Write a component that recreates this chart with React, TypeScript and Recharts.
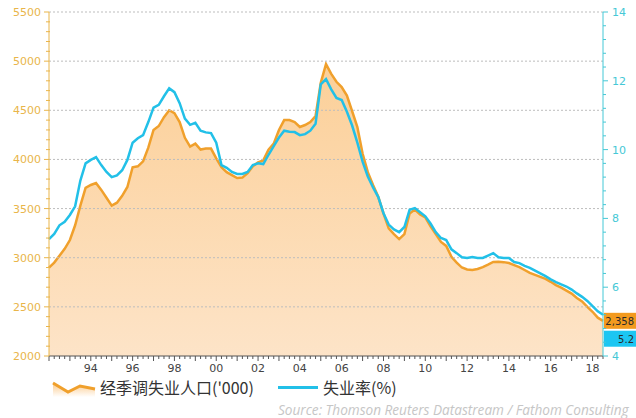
import { ComposedChart, Area, Line, XAxis, YAxis, ReferenceLine, ReferenceDot } from 'recharts';

// quarterly readings, 1992Q1 .. 2018Q3
const FIRST_YEAR = 1992;

// 经季调失业人口, thousands
const unemployed = [
  2900, 2950, 3020, 3090, 3180, 3330, 3530, 3710, 3740, 3760, 3690, 3610,
  3530, 3560, 3630, 3720, 3920, 3930, 3980, 4120, 4300, 4340, 4430, 4500,
  4470, 4380, 4220, 4130, 4160, 4100, 4110, 4110, 4010, 3920, 3870, 3840,
  3811, 3815, 3860, 3930, 3970, 3990, 4100, 4160, 4300, 4400, 4400, 4380,
  4330, 4350, 4380, 4440, 4780, 4970, 4870, 4790, 4737, 4650, 4490, 4330,
  4060, 3870, 3740, 3620, 3450, 3300, 3240, 3190, 3240, 3450, 3490, 3440,
  3410, 3320, 3240, 3160, 3120, 3010, 2950, 2900, 2880, 2875, 2885, 2905,
  2930, 2957, 2960, 2955, 2946, 2925, 2905, 2875, 2845, 2825, 2805, 2785,
  2755, 2722, 2695, 2665, 2635, 2590, 2555, 2500, 2450, 2390, 2358,
];

// 失业率, %
const rate = [
  7.4, 7.55, 7.8, 7.9, 8.1, 8.35, 9.1, 9.6, 9.7, 9.78, 9.55, 9.35,
  9.2, 9.25, 9.4, 9.7, 10.2, 10.33, 10.42, 10.8, 11.22, 11.3, 11.55, 11.78,
  11.67, 11.35, 10.9, 10.72, 10.78, 10.55, 10.5, 10.48, 10.2, 9.55, 9.47, 9.35,
  9.29, 9.29, 9.35, 9.55, 9.6, 9.58, 9.85, 10.1, 10.35, 10.55, 10.52, 10.51,
  10.42, 10.45, 10.55, 10.75, 11.9, 12.05, 11.75, 11.5, 11.44, 11.1, 10.7, 10.2,
  9.65, 9.22, 8.9, 8.62, 8.15, 7.82, 7.68, 7.6, 7.75, 8.25, 8.3, 8.18,
  8.06, 7.85, 7.6, 7.43, 7.37, 7.1, 6.99, 6.87, 6.85, 6.88, 6.85, 6.85,
  6.92, 6.99, 6.87, 6.85, 6.85, 6.73, 6.7, 6.62, 6.56, 6.48, 6.4, 6.32,
  6.23, 6.15, 6.08, 6.02, 5.93, 5.82, 5.72, 5.6, 5.45, 5.3, 5.2,
];

const periods = unemployed.map((_, i) => `${FIRST_YEAR + Math.floor(i / 4)}Q${(i % 4) + 1}`);
const labelledYears = ['1994', '1996', '1998', '2000', '2002', '2004', '2006', '2008', '2010', '2012', '2014', '2016', '2018'];

const leftMajor = [2000, 2500, 3000, 3500, 4000, 4500, 5000, 5500];
const leftTicks = Array.from({ length: 36 }, (_, i) => 2000 + i * 100);
const rightMajor = [4, 6, 8, 10, 12, 14];
const rightTicks = Array.from({ length: 26 }, (_, i) => Math.round((4 + i * 0.4) * 10) / 10);

const lastUnemployedText = '2,358';
const lastRateText = '5.2';

const data = periods.map((period, i) => ({ period, unemployed: unemployed[i], rate: rate[i] }));
const last = data.length - 1;

const ORANGE = '#f0a02c';
const CYAN = '#22c0e8';
const GOLD = '#e9b54a';
const TEAL = '#45c8d6';
const FONT = '"DejaVu Sans", Verdana, sans-serif';

const LeftTick = ({ x, y, payload }: any) => {
  const major = leftMajor.includes(payload.value);
  return (
    <g>
      <line x1={x - (major ? 5 : 3)} x2={x + (major ? 0 : 1)} y1={y} y2={y} stroke={GOLD} />
      {major && (
        <text x={x - 8} y={y} dy={4} textAnchor="end" fill={GOLD} fontSize={11} fontFamily={FONT}>
          {payload.value}
        </text>
      )}
    </g>
  );
};

const RightTick = ({ x, y, payload }: any) => {
  const major = rightMajor.includes(payload.value);
  return (
    <g>
      <line x1={x} x2={x + (major ? 5 : 3)} y1={y} y2={y} stroke={TEAL} />
      {major && (
        <text x={x + 9} y={y} dy={4} textAnchor="start" fill={TEAL} fontSize={11} fontFamily={FONT}>
          {payload.value}
        </text>
      )}
    </g>
  );
};

const BottomTick = ({ x, y, payload }: any) => {
  const p: string = payload.value;
  const year = p.slice(0, 4);
  const q1 = p.endsWith('Q1');
  return (
    <g>
      <line x1={x} x2={x} y1={y} y2={y + (q1 ? 5 : 3)} stroke="#555" />
      {q1 && labelledYears.includes(year) && (
        <text x={x} y={y + 16} textAnchor="middle" fill="#444" fontSize={11} fontFamily={FONT}>
          {year.slice(2)}
        </text>
      )}
    </g>
  );
};

const Badge = ({ cx, cy, fill, text, shift }: any) => (
  <g>
    <rect x={cx + 1} y={cy - 8 + shift} width={40} height={16} fill={fill} />
    <text x={634} y={cy + shift} dy={4} textAnchor="end" fill="#2a2a2a" fontSize={10} fontFamily={FONT}>
      {text}
    </text>
  </g>
);

export default function App() {
  return (
    <div style={{ position: 'absolute', left: 0, top: 0, width: 636, height: 418, background: '#fff', overflow: 'hidden' }}>
      <ComposedChart width={636} height={418} data={data} margin={{ top: 12, right: 0, left: 0, bottom: 38 }}>
        <defs>
          <linearGradient id="fillUnemployed" x1="0" y1="0" x2="0" y2="1">
            <stop offset="0%" stopColor="#fbc98a" />
            <stop offset="100%" stopColor="#fde0c0" />
          </linearGradient>
        </defs>
        <XAxis
          dataKey="period"
          ticks={periods}
          interval={0}
          tick={<BottomTick />}
          tickLine={false}
          tickSize={0}
          tickMargin={0}
          height={24}
          axisLine={{ stroke: '#555' }}
        />
        <YAxis
          yAxisId="l"
          orientation="left"
          domain={[2000, 5500]}
          ticks={leftTicks}
          interval={0}
          tick={<LeftTick />}
          tickLine={false}
          tickSize={0}
          tickMargin={0}
          width={49}
          axisLine={{ stroke: GOLD }}
        />
        <YAxis
          yAxisId="r"
          orientation="right"
          domain={[4, 14]}
          ticks={rightTicks}
          interval={0}
          tick={<RightTick />}
          tickLine={false}
          tickSize={0}
          tickMargin={0}
          width={33}
          axisLine={{ stroke: TEAL }}
        />
        {leftMajor.slice(1).map((v) => (
          <ReferenceLine key={v} yAxisId="l" y={v} stroke="#bdbdbd" strokeDasharray="2 2" />
        ))}
        <Area
          yAxisId="l"
          type="linear"
          dataKey="unemployed"
          stroke={ORANGE}
          strokeWidth={2.5}
          fill="url(#fillUnemployed)"
          fillOpacity={0.88}
          isAnimationActive={false}
          dot={false}
          activeDot={false}
        />
        <Line
          yAxisId="r"
          type="linear"
          dataKey="rate"
          stroke={CYAN}
          strokeWidth={2.5}
          dot={false}
          activeDot={false}
          isAnimationActive={false}
        />
        <ReferenceDot
          yAxisId="l"
          x={periods[last]}
          y={unemployed[last]}
          r={0}
          ifOverflow="visible"
          shape={(p: any) => <Badge cx={p.cx} cy={p.cy} fill="#f39a1e" text={lastUnemployedText} shift={0} />}
        />
        <ReferenceDot
          yAxisId="r"
          x={periods[last]}
          y={rate[last]}
          r={0}
          ifOverflow="visible"
          shape={(p: any) => <Badge cx={p.cx} cy={p.cy} fill="#1cc6f2" text={lastRateText} shift={24} />}
        />
      </ComposedChart>

      <svg style={{ position: 'absolute', left: 50, top: 378 }} width={48} height={20}>
        <defs>
          <linearGradient id="legendFill" x1="0" y1="0" x2="0" y2="1">
            <stop offset="0%" stopColor="#fbc98a" />
            <stop offset="100%" stopColor="#fff" />
          </linearGradient>
        </defs>
        <polygon points="3,5 18,14 30,8 45,11 45,19 3,19" fill="url(#legendFill)" />
        <polyline points="3,5 18,14 30,8 45,11" fill="none" stroke={ORANGE} strokeWidth={3} />
      </svg>
      <div style={{ position: 'absolute', left: 100, top: 376, fontFamily: '"Noto Sans CJK SC", sans-serif', fontSize: 16, lineHeight: '22px', color: '#333', whiteSpace: 'nowrap' }}>
        经季调失业人口('000)
      </div>
      <div style={{ position: 'absolute', left: 278, top: 386, width: 40, height: 3, background: CYAN }} />
      <div style={{ position: 'absolute', left: 323, top: 376, fontFamily: '"Noto Sans CJK SC", sans-serif', fontSize: 16, lineHeight: '22px', color: '#333', whiteSpace: 'nowrap' }}>
        失业率(%)
      </div>
      <div style={{ position: 'absolute', left: 278, top: 402, fontFamily: '"Open Sans", sans-serif', fontStyle: 'italic', fontSize: 13.6, lineHeight: '16px', color: '#c6c6c6', whiteSpace: 'nowrap' }}>
        Source: Thomson Reuters Datastream / Fathom Consulting
      </div>
    </div>
  );
}
